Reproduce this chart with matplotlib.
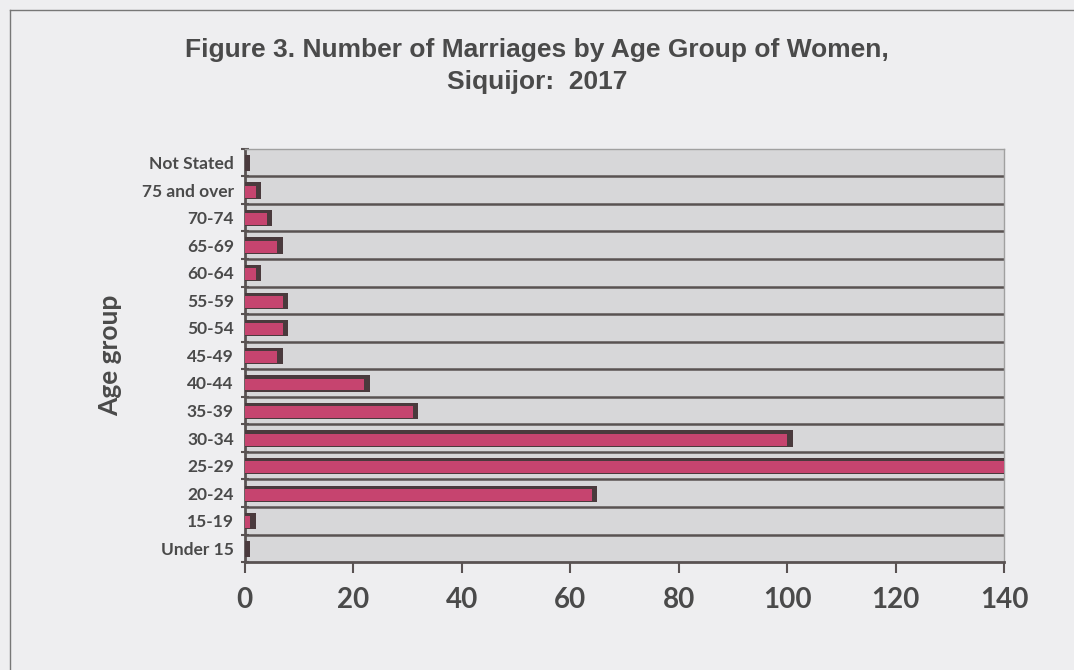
import numpy as np
import matplotlib
matplotlib.use("Agg")
import matplotlib.pyplot as plt
from matplotlib import font_manager as fm
from matplotlib.lines import Line2D

age_groups = ["Under 15", "15-19", "20-24", "25-29", "30-34", "35-39", "40-44",
              "45-49", "50-54", "55-59", "60-64", "65-69", "70-74",
              "75 and over", "Not Stated"]
marriages = [0, 1, 64, 140, 100, 31, 22, 6, 7, 7, 2, 6, 4, 2, 0]
x_ticks = [0, 20, 40, 60, 80, 100, 120, 140]

names = {f.name for f in fm.fontManager.ttflist}
title_font = "Liberation Sans Narrow" if "Liberation Sans Narrow" in names else "Liberation Sans"
label_font = "Lato" if "Lato" in names else "DejaVu Sans"

page = "#eeeef0"
text_col = "#4a4a4a"
pink = "#c6446f"
dark = "#4a3a3d"
grid_col = "#595252"

fig = plt.figure(figsize=(10.74, 6.7), dpi=100, facecolor=page)
ax = fig.add_axes([0.228, 0.161, 0.707, 0.617])
ax.set_facecolor("#d7d7d9")

y = np.arange(len(age_groups))
vals = np.array(marriages, dtype=float)

# fake 3-D look: dark back/side block, then pink front face
ax.barh(y - 0.015, vals + 1.0, height=0.59, left=0, color=dark, zorder=3)
ax.barh(y - 0.055, vals, height=0.43, left=0, color=pink, zorder=4)

ax.set_xlim(0, 140)
ax.set_ylim(-0.5, len(age_groups) - 0.5)

# gridlines at the category boundaries
for b in np.arange(-0.5, len(age_groups), 1.0)[1:-1]:
    ax.axhline(b, color=grid_col, lw=1.8, zorder=2)

ax.set_yticks(y)
ax.set_yticklabels(age_groups, fontsize=12.5, fontweight="bold",
                   color=text_col, family=label_font)
ax.set_yticks(np.arange(-0.5, len(age_groups), 1.0), minor=True)
ax.tick_params(axis="y", which="major", length=0, pad=8)
ax.tick_params(axis="y", which="minor", length=6, width=1.5, color=grid_col,
               direction="inout")

ax.set_xticks(x_ticks)
ax.set_xticklabels([str(v) for v in x_ticks], fontsize=20, fontweight="bold",
                   color=text_col, family=label_font)
ax.tick_params(axis="x", length=8, width=1.5, color=grid_col, pad=10)

ax.set_ylabel("Age group", fontsize=19, fontweight="bold", color=text_col,
              family=label_font, labelpad=14)

for s in ["left", "bottom"]:
    ax.spines[s].set_color(grid_col)
    ax.spines[s].set_linewidth(2)
for s in ["top", "right"]:
    ax.spines[s].set_color("#a0a0a0")
    ax.spines[s].set_linewidth(1)

fig.text(0.5, 0.925, "Figure 3. Number of Marriages by Age Group of Women,",
         ha="center", va="center", fontsize=19, fontweight="bold",
         color=text_col, family=title_font)
fig.text(0.5, 0.877, "Siquijor:  2017", ha="center", va="center", fontsize=19,
         fontweight="bold", color=text_col, family=title_font)

# page frame
fig.add_artist(Line2D([0.0095, 1.0], [0.985, 0.985], transform=fig.transFigure,
                      color="#777777", lw=1))
fig.add_artist(Line2D([0.0095, 0.0095], [0.0, 0.985], transform=fig.transFigure,
                      color="#777777", lw=1))

fig.savefig("out.png", dpi=100, facecolor=page)
